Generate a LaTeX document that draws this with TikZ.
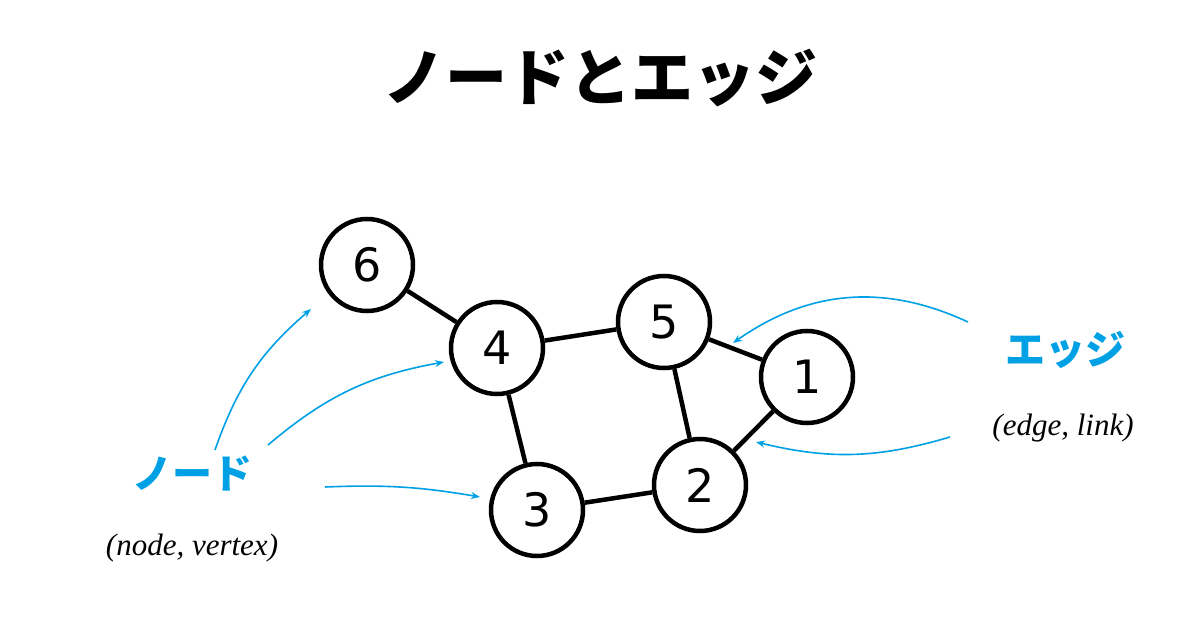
\documentclass[tikz,border=0pt]{standalone}
\usepackage{fontspec}
\usetikzlibrary{arrows.meta}
\setmainfont{Liberation Serif}
\newfontfamily\cjk{Noto Sans CJK JP}
\newfontfamily\djv{DejaVu Sans}
\definecolor{blu}{RGB}{0,160,228}
\begin{document}
\begin{tikzpicture}[x=1pt,y=-1pt,
  vtx/.style={circle,draw,line width=4.5pt,minimum size=92pt,inner sep=0pt,fill=white,font=\djv\fontsize{46}{46}\selectfont},
  edg/.style={line width=4.5pt},
  arr/.style={blu,line width=1.6pt,-{Stealth[length=9pt,width=7pt]}}]
\useasboundingbox (0,0) rectangle (1200,631);
\node[font=\cjk\bfseries\fontsize{62}{62}\selectfont] (title) at (600,78) {ノードとエッジ};
\node[vtx] (n6) at (367,265) {6};
\node[vtx] (n4) at (497,348) {4};
\node[vtx] (n5) at (664,322) {5};
\node[vtx] (n1) at (807,377) {1};
\node[vtx] (n2) at (700,485) {2};
\node[vtx] (n3) at (537,510) {3};
\draw[edg] (n6)--(n4) (n4)--(n5) (n5)--(n1) (n5)--(n2) (n1)--(n2) (n4)--(n3) (n3)--(n2);
\node[blu,font=\cjk\bfseries\fontsize{40}{40}\selectfont] (nl) at (192,474) {ノード};
\node[font=\itshape\fontsize{31}{31}\selectfont] (nle) at (192,548) {(node, vertex)};
\node[blu,font=\cjk\bfseries\fontsize{40}{40}\selectfont] (el) at (1065,350) {エッジ};
\node[font=\itshape\fontsize{31}{31}\selectfont] (ele) at (1063,428) {(edge, link)};
\coordinate (a1) at (215,450); \coordinate (a2) at (268,445); \coordinate (a3) at (325,487);
\coordinate (b1) at (968,322); \coordinate (b2) at (950,437);
\coordinate (t1) at (311,309); \coordinate (t2) at (444,362); \coordinate (t3) at (480,497);
\coordinate (t4) at (733,343); \coordinate (t5) at (756,442);
\draw[arr] (a1) to[bend left=15] (t1);
\draw[arr] (a2) to[bend left=15] (t2);
\draw[arr] (a3) to[bend left=6] (t3);
\draw[arr] (b1) to[bend right=30] (t4);
\draw[arr] (b2) to[bend left=15] (t5);
\end{tikzpicture}
\end{document}
